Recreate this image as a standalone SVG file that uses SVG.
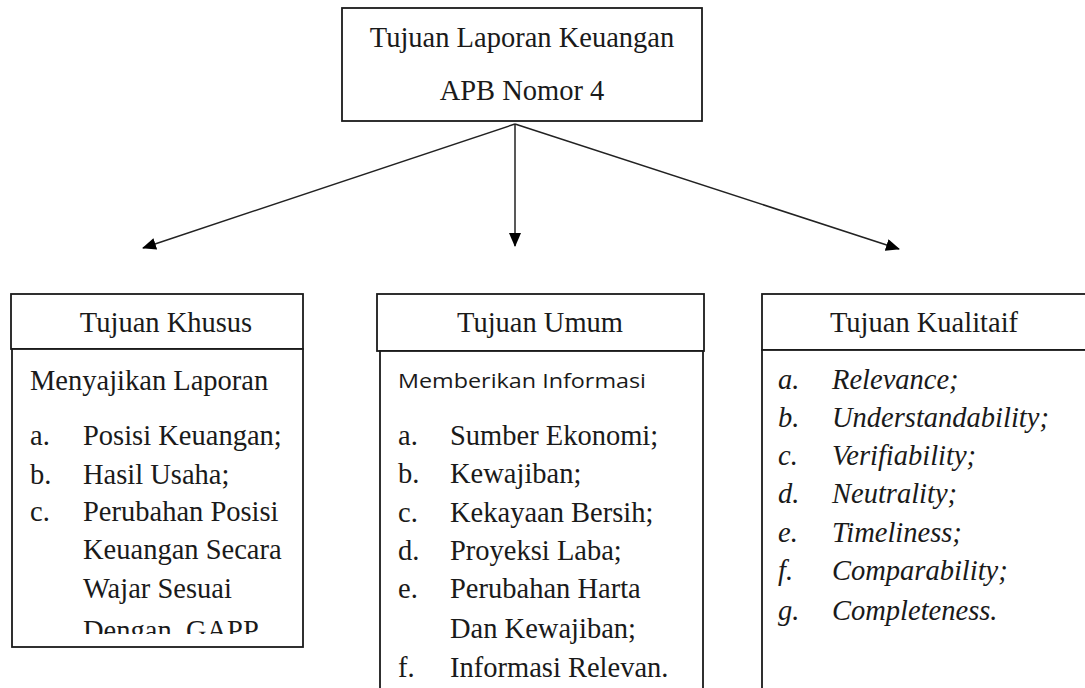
<svg xmlns="http://www.w3.org/2000/svg" width="1085" height="688" viewBox="0 0 1085 688">
<style>
.box{fill:#fff;stroke:#1a1a1a;stroke-width:1.8}
.s{font-family:"Liberation Serif","Times New Roman",serif;font-size:28.5px;fill:#1a1a1a}
.c{text-anchor:middle}
.i{font-style:italic}
.sans{font-family:"Open Sans","Liberation Sans",sans-serif;font-size:20px;fill:#1a1a1a}
.ln{stroke:#222;stroke-width:1.5;fill:none}
</style>
<defs>
<marker id="ah" markerWidth="14" markerHeight="12" refX="13" refY="6" orient="auto" markerUnits="userSpaceOnUse">
<path d="M0,0 L14,6 L0,12 Z" fill="#000"/>
</marker>
<clipPath id="clipK"><rect x="12" y="349" width="291" height="285"/></clipPath>
</defs>
<rect width="1085" height="688" fill="#fff"/>

<g id="connectors">
<line class="ln" x1="515" y1="124" x2="143" y2="248" marker-end="url(#ah)"/>
<line class="ln" x1="515" y1="124" x2="515" y2="246" marker-end="url(#ah)"/>
<line class="ln" x1="515" y1="124" x2="899" y2="249" marker-end="url(#ah)"/>
</g>

<g id="root">
<rect class="box" x="342" y="8" width="360" height="113"/>
<text class="s c" x="522" y="47" font-size="29">Tujuan Laporan Keuangan</text>
<text class="s c" x="522" y="100" font-size="29">APB Nomor 4</text>
</g>

<g id="khusus">
<rect class="box" x="11" y="294" width="292" height="55"/>
<text class="s c" x="166" y="332">Tujuan Khusus</text>
<rect class="box" x="12" y="349" width="291" height="298"/>
<g clip-path="url(#clipK)">
<text class="s" x="30" y="390">Menyajikan Laporan</text>
<text class="s" x="30" y="445">a.</text><text class="s" x="83" y="445">Posisi Keuangan;</text>
<text class="s" x="30" y="484">b.</text><text class="s" x="83" y="484">Hasil Usaha;</text>
<text class="s" x="30" y="521">c.</text><text class="s" x="83" y="521">Perubahan Posisi</text>
<text class="s" x="83" y="559">Keuangan Secara</text>
<text class="s" x="83" y="598">Wajar Sesuai</text>
<text class="s" x="83" y="640" xml:space="preserve">Dengan  GAPP</text>
</g>
</g>

<g id="umum">
<rect class="box" x="377" y="294" width="327" height="57"/>
<text class="s c" x="540" y="332">Tujuan Umum</text>
<rect class="box" x="380" y="351" width="323" height="345"/>
<text class="sans" x="398" y="388" textLength="248" lengthAdjust="spacingAndGlyphs">Memberikan Informasi</text>
<text class="s" x="398" y="445">a.</text><text class="s" x="450" y="445">Sumber Ekonomi;</text>
<text class="s" x="398" y="483">b.</text><text class="s" x="450" y="483">Kewajiban;</text>
<text class="s" x="398" y="522">c.</text><text class="s" x="450" y="522">Kekayaan Bersih;</text>
<text class="s" x="398" y="560">d.</text><text class="s" x="450" y="560">Proyeksi Laba;</text>
<text class="s" x="398" y="598">e.</text><text class="s" x="450" y="598">Perubahan Harta</text>
<text class="s" x="450" y="638">Dan Kewajiban;</text>
<text class="s" x="398" y="677">f.</text><text class="s" x="450" y="677">Informasi Relevan.</text>
</g>

<g id="kualitatif">
<rect class="box" x="762" y="294" width="330" height="56"/>
<text class="s c" x="924" y="332">Tujuan Kualitaif</text>
<rect class="box" x="762" y="350" width="330" height="346"/>
<text class="s i" x="778" y="389">a.</text><text class="s i" x="832" y="389">Relevance;</text>
<text class="s i" x="778" y="427">b.</text><text class="s i" x="832" y="427">Understandability;</text>
<text class="s i" x="778" y="465">c.</text><text class="s i" x="832" y="465">Verifiability;</text>
<text class="s i" x="778" y="503">d.</text><text class="s i" x="832" y="503">Neutrality;</text>
<text class="s i" x="778" y="542">e.</text><text class="s i" x="832" y="542">Timeliness;</text>
<text class="s i" x="778" y="580">f.</text><text class="s i" x="832" y="580">Comparability;</text>
<text class="s i" x="778" y="620">g.</text><text class="s i" x="832" y="620">Completeness.</text>
</g>
</svg>
